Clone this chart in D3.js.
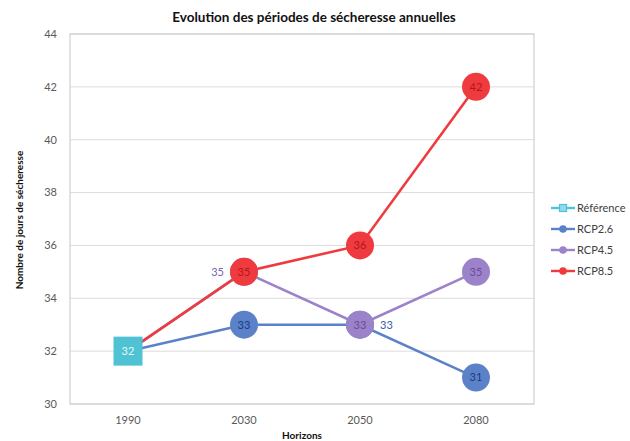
<!DOCTYPE html>
<html>
<head>
<meta charset="utf-8">
<script src="https://cdn.jsdelivr.net/npm/d3@7"></script>
<style>
  body { margin: 0; background: #fff; }
  svg { display: block; font-family: Lato, "Open Sans", sans-serif; }
</style>
</head>
<body>
<script>
// Chart values
const horizons = ['1990', '2030', '2050', '2080'];
const reference = [32, null, null, null];
const rcp26 = [32, 33, 33, 31];
const rcp45 = [32, 35, 33, 35];
const rcp85 = [32, 35, 36, 42];
const yTicks = [30, 32, 34, 36, 38, 40, 42, 44];

const w = 630, h = 441;
const margin = { top: 34, right: 96, bottom: 37, left: 70 };

const svg = d3.select('body').append('svg')
  .attr('width', w)
  .attr('height', h);

const x = d3.scaleBand()
  .domain(horizons)
  .range([margin.left, w - margin.right]);

const y = d3.scaleLinear()
  .domain([30, 44])
  .range([h - margin.bottom, margin.top]);

const cx = d => x(d) + x.bandwidth() / 2;

// gridlines
svg.append('g')
  .selectAll('line')
  .data(yTicks)
  .join('line')
  .attr('x1', margin.left)
  .attr('x2', w - margin.right)
  .attr('y1', d => y(d))
  .attr('y2', d => y(d))
  .attr('stroke', '#dcdcdc')
  .attr('stroke-width', 1);

// plot frame
svg.append('rect')
  .attr('x', margin.left)
  .attr('y', margin.top)
  .attr('width', w - margin.right - margin.left)
  .attr('height', h - margin.bottom - margin.top)
  .attr('fill', 'none')
  .attr('stroke', '#d0d0d0')
  .attr('stroke-width', 1.2);

// y tick labels
svg.append('g')
  .selectAll('text')
  .data(yTicks)
  .join('text')
  .attr('x', 57)
  .attr('y', d => y(d))
  .attr('dy', '0.35em')
  .attr('text-anchor', 'end')
  .attr('font-size', 11)
  .attr('fill', '#595959')
  .text(d => d);

// x tick labels
svg.append('g')
  .selectAll('text')
  .data(horizons)
  .join('text')
  .attr('x', d => cx(d))
  .attr('y', 424)
  .attr('text-anchor', 'middle')
  .attr('font-size', 11)
  .attr('fill', '#595959')
  .text(d => d);

// titles
svg.append('text')
  .attr('x', 314)
  .attr('y', 22)
  .attr('text-anchor', 'middle')
  .attr('font-size', 13.5)
  .attr('font-weight', 700)
  .attr('fill', '#111')
  .text('Evolution des périodes de sécheresse annuelles');

svg.append('text')
  .attr('x', 302)
  .attr('y', 439)
  .attr('text-anchor', 'middle')
  .attr('font-size', 10)
  .attr('font-weight', 700)
  .attr('fill', '#111')
  .text('Horizons');

svg.append('text')
  .attr('transform', 'translate(23,220) rotate(-90)')
  .attr('text-anchor', 'middle')
  .attr('font-size', 10)
  .attr('font-weight', 700)
  .attr('fill', '#111')
  .text('Nombre de jours de sécheresse');

const series = [
  { name: 'Référence', values: reference, color: '#4fc3d3', label: '#e8f8fa', shape: 'square' },
  { name: 'RCP2.6', values: rcp26, color: '#5b82c8', label: '#1c3a86', shape: 'circle' },
  { name: 'RCP4.5', values: rcp45, color: '#9c83c9', label: '#6a4c9c', shape: 'circle' },
  { name: 'RCP8.5', values: rcp85, color: '#ef3b3f', label: '#b3161b', shape: 'circle' }
];

// label placement where markers overlap: 'left', 'right' or centered
const labelPos = {
  'RCP4.5': { '2030': 'left' },
  'RCP2.6': { '2050': 'right' }
};

const line = d3.line()
  .defined(d => d.v != null)
  .x(d => cx(d.h))
  .y(d => y(d.v));

series.forEach(s => {
  const pts = horizons.map((hz, i) => ({ h: hz, v: s.values[i] }));
  svg.append('path')
    .datum(pts)
    .attr('d', line)
    .attr('fill', 'none')
    .attr('stroke', s.color)
    .attr('stroke-width', 2.6);
});

// markers: series start at the reference, markers only from 2030 onwards
series.forEach(s => {
  const g = svg.append('g');
  const pts = horizons.map((hz, i) => ({ h: hz, v: s.values[i] }))
    .filter((d, i) => d.v != null && (s.shape === 'square' || i > 0));
  pts.forEach(d => {
    if (s.shape === 'square') {
      g.append('rect')
        .attr('x', cx(d.h) - 14.5)
        .attr('y', y(d.v) - 14.5)
        .attr('width', 29)
        .attr('height', 29)
        .attr('fill', s.color);
    } else {
      g.append('circle')
        .attr('cx', cx(d.h))
        .attr('cy', y(d.v))
        .attr('r', 14)
        .attr('fill', s.color);
    }
  });
  pts.forEach(d => {
    const pos = (labelPos[s.name] || {})[d.h];
    let lx = cx(d.h), anchor = 'middle', fill = s.label;
    if (pos === 'left') { lx = cx(d.h) - 20; anchor = 'end'; fill = s.color === '#9c83c9' ? '#7a5fae' : s.label; }
    if (pos === 'right') { lx = cx(d.h) + 20; anchor = 'start'; fill = '#3b5ca8'; }
    g.append('text')
      .attr('x', lx)
      .attr('y', y(d.v))
      .attr('dy', '0.35em')
      .attr('text-anchor', anchor)
      .attr('font-size', 11)
      .attr('fill', fill)
      .text(d.v);
  });
});

// legend
const legend = svg.append('g')
  .selectAll('g')
  .data(series)
  .join('g')
  .attr('transform', (d, i) => `translate(551,${208 + i * 21})`);

legend.append('line')
  .attr('x1', 0).attr('x2', 24)
  .attr('stroke', d => d.color)
  .attr('stroke-width', 2.4);

legend.each(function(d) {
  const g = d3.select(this);
  if (d.shape === 'square') {
    g.append('rect')
      .attr('x', 8.5).attr('y', -3.5)
      .attr('width', 7).attr('height', 7)
      .attr('fill', '#8fdbe6')
      .attr('stroke', d.color)
      .attr('stroke-width', 1.2);
  } else {
    g.append('circle')
      .attr('cx', 12).attr('cy', 0).attr('r', 3.8)
      .attr('fill', d.color);
  }
});

legend.append('text')
  .attr('x', 26)
  .attr('dy', '0.35em')
  .attr('font-size', 11)
  .attr('fill', '#404040')
  .text(d => d.name);
</script>
</body>
</html>
